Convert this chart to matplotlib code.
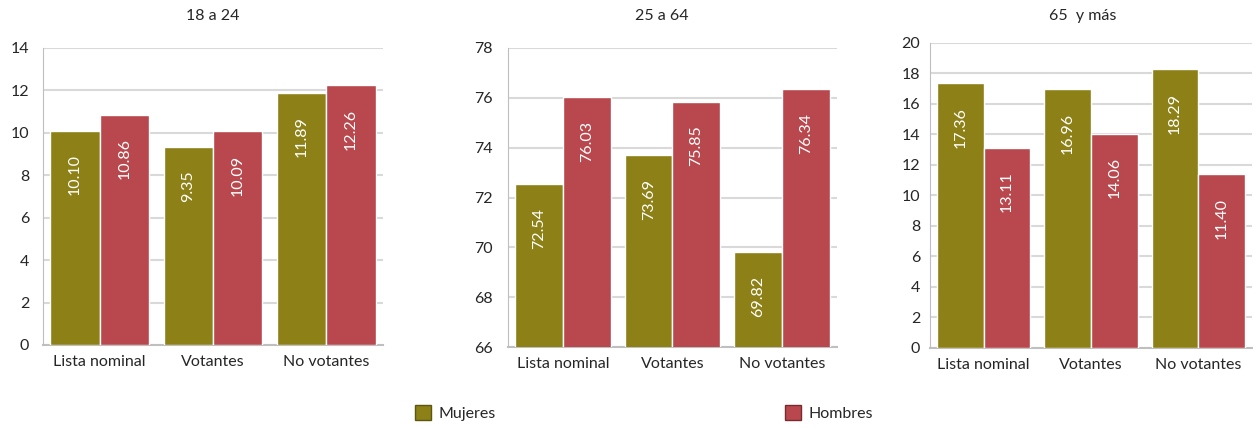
import matplotlib.pyplot as plt
from matplotlib.patches import Patch
import numpy as np

plt.rcParams['font.family'] = ['Lato', 'DejaVu Sans']

# DATA
categorias = ["Lista nominal", "Votantes", "No votantes"]
grupos = ["18 a 24", "25 a 64", "65  y más"]
mujeres = [[10.10, 9.35, 11.89], [72.54, 73.69, 69.82], [17.36, 16.96, 18.29]]
hombres = [[10.86, 10.09, 12.26], [76.03, 75.85, 76.34], [13.11, 14.06, 11.40]]
limites = [(0, 14), (66, 78), (0, 20)]
pasos = [2, 2, 2]

# STYLE
C_MUJ = "#8C8016"
C_HOM = "#B8484D"
GRID = "#D9D9D9"
TXT = "#262626"
FS = 11.5

fig = plt.figure(figsize=(12.53, 4.28), dpi=100)
posiciones = [
    [0.0343, 0.194, 0.2713, 0.694],
    [0.4054, 0.189, 0.2626, 0.699],
    [0.7422, 0.187, 0.2570, 0.7126],
]
titulo_x = [0.170, 0.528, 0.864]
ypads = [10, 11, 7]

for i in range(3):
    ax = fig.add_axes(posiciones[i])
    x = np.arange(len(categorias))
    w = 0.435
    b1 = ax.bar(x - w / 2, mujeres[i], w, color=C_MUJ, edgecolor="white", linewidth=1, zorder=3)
    b2 = ax.bar(x + w / 2, hombres[i], w, color=C_HOM, edgecolor="white", linewidth=1, zorder=3)
    for bars, vals in ((b1, mujeres[i]), (b2, hombres[i])):
        for r, v in zip(bars, vals):
            ax.annotate(f"{v:.2f}", (r.get_x() + r.get_width() / 2, v),
                        xytext=(0, -17), textcoords="offset points",
                        ha="center", va="top", rotation=90, color="white",
                        fontsize=FS, zorder=4)
    lo, hi = limites[i]
    ax.set_ylim(lo, hi)
    ax.set_xlim(-0.5, 2.5)
    ax.set_yticks(np.arange(lo, hi + 0.1, pasos[i]))
    ax.set_xticks(x)
    ax.set_xticklabels(categorias)
    ax.yaxis.grid(True, color=GRID, linewidth=1.5, zorder=0)
    ax.set_axisbelow(True)
    for s in ("top", "right"):
        ax.spines[s].set_visible(False)
    ax.spines["left"].set_color("#BFBFBF")
    ax.spines["bottom"].set_color("#BFBFBF")
    ax.spines["bottom"].set_linewidth(1.5)
    ax.tick_params(axis="both", length=0, labelsize=FS, colors=TXT)
    ax.tick_params(axis="y", pad=ypads[i])
    ax.tick_params(axis="x", pad=7)
    fig.text(titulo_x[i], 1 - 16 / 428, grupos[i], ha="center", va="center",
             fontsize=FS, color=TXT)

handles = [Patch(facecolor=C_MUJ, edgecolor="#5E5610", label="Mujeres"),
           Patch(facecolor=C_HOM, edgecolor="#7A2A2E", label="Hombres")]
fig.legend(handles=handles, loc="center", bbox_to_anchor=(0.514, 0.035), ncol=2,
           frameon=False, columnspacing=18.1, handlelength=1.0, handleheight=1.0,
           handletextpad=0.5, fontsize=FS, labelcolor=TXT)

fig.savefig("out.png", dpi=100)
